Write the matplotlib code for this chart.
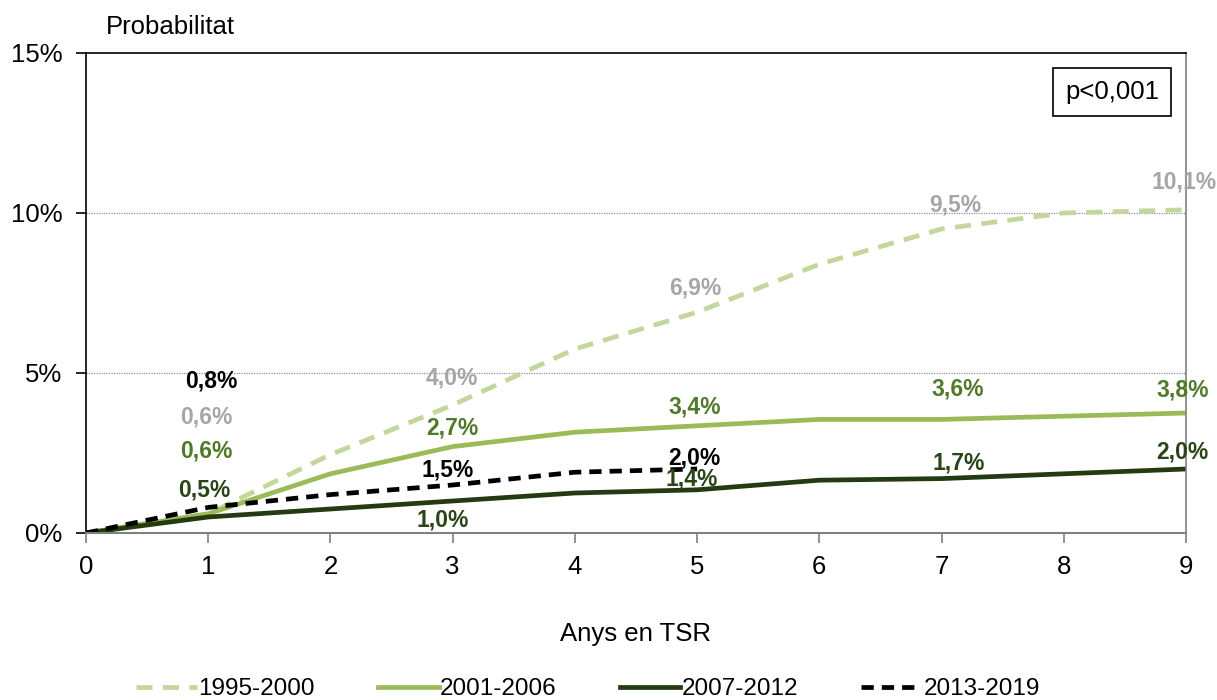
import numpy as np
import matplotlib.pyplot as plt

plt.rcParams['font.family'] = ['Liberation Sans', 'DejaVu Sans']

# data (cumulative probability, %)
anys = [0, 1, 2, 3, 4, 5, 6, 7, 8, 9]
p_1995 = [0, 0.6, 2.45, 4.0, 5.75, 6.9, 8.4, 9.5, 10.0, 10.1]
p_2001 = [0, 0.6, 1.85, 2.7, 3.15, 3.35, 3.55, 3.55, 3.65, 3.75]
p_2007 = [0, 0.5, 0.75, 1.0, 1.25, 1.35, 1.65, 1.7, 1.85, 2.0]
anys_2013 = [0, 1, 2, 3, 4, 5]
p_2013 = [0, 0.8, 1.2, 1.5, 1.9, 2.0]

# labelled points: (x, value, text)
lab_1995 = [(1, 0.6, '0,6%'), (3, 4.0, '4,0%'), (5, 6.9, '6,9%'), (7, 9.5, '9,5%'), (9, 10.1, '10,1%')]
lab_2001 = [(1, 0.6, '0,6%'), (3, 2.7, '2,7%'), (5, 3.35, '3,4%'), (7, 3.55, '3,6%'), (9, 3.75, '3,8%')]
lab_2007 = [(1, 0.5, '0,5%'), (3, 1.0, '1,0%'), (5, 1.35, '1,4%'), (7, 1.7, '1,7%'), (9, 2.0, '2,0%')]
lab_2013 = [(1, 0.8, '0,8%'), (3, 1.5, '1,5%'), (5, 2.0, '2,0%')]

# label offsets in pixels (dx, dy)
off_1995 = [(-2, 97), (-1, 27), (-2, 24), (14, 24), (-2, 28)]
off_2001 = [(-2, 63), (0, 19), (-2, 19), (16, 30), (-3, 23)]
off_2007 = [(-4, 27), (-10, -19), (-5, 11), (17, 16), (-4, 17)]
off_2013 = [(3, 126), (-5, 15), (-3, 11)]

c_1995, t_1995 = '#c3d69b', '#a6a6a6'
c_2001, t_2001 = '#9bbb59', '#4f7a28'
c_2007, t_2007 = '#243a10', '#2a4418'
c_2013, t_2013 = '#000000', '#000000'

fig = plt.figure(figsize=(12.17, 7), dpi=100)
ax = fig.add_axes([86/1217, 167/700, 1100/1217, 480/700])

ax.plot(anys, p_1995, color=c_1995, lw=3.4, linestyle=(0, (3.4, 2.2)), label='1995-2000')
ax.plot(anys, p_2001, color=c_2001, lw=3.4, label='2001-2006')
ax.plot(anys, p_2007, color=c_2007, lw=3.4, label='2007-2012')
ax.plot(anys_2013, p_2013, color=c_2013, lw=3.4, linestyle=(0, (2.6, 1.7)), label='2013-2019')

for labs, offs, col in [(lab_1995, off_1995, t_1995), (lab_2001, off_2001, t_2001),
                        (lab_2007, off_2007, t_2007), (lab_2013, off_2013, t_2013)]:
    for (x, v, s), (dx, dy) in zip(labs, offs):
        ax.annotate(s, (x, v), xytext=(dx, dy), textcoords='offset pixels',
                    ha='center', va='center', fontsize=16.5, fontweight='bold',
                    color=col, annotation_clip=False)

ax.set_xlim(0, 9)
ax.set_ylim(0, 15)
ax.set_xticks(range(10))
ax.set_yticks([0, 5, 10, 15])
ax.set_yticklabels(['0%', '5%', '10%', '15%'])
ax.tick_params(axis='both', labelsize=18.5, direction='out', length=7, width=1.2)
ax.tick_params(axis='x', colors='#808080', labelcolor='black', pad=9)
ax.tick_params(axis='y', pad=10)
for y in [5, 10]:
    ax.axhline(y, color='#909090', lw=0.9, linestyle=(0, (1, 1)), zorder=0)

ax.spines['left'].set_color('black')
ax.spines['left'].set_linewidth(1.2)
ax.spines['top'].set_color('black')
ax.spines['top'].set_linewidth(1.2)
ax.spines['bottom'].set_color('#808080')
ax.spines['bottom'].set_linewidth(1.5)
ax.spines['right'].set_color('#808080')
ax.spines['right'].set_linewidth(1.2)

ax.text(20/1100, 1.03, 'Probabilitat', transform=ax.transAxes, fontsize=18.5,
        ha='left', va='bottom')
ax.set_xlabel('Anys en TSR', fontsize=18.5, labelpad=31)

ax.text(1026/1100, 1 - 39/480, 'p<0,001', transform=ax.transAxes, fontsize=18.5,
        ha='center', va='center',
        bbox=dict(boxstyle='square,pad=0.45', fc='white', ec='black', lw=1.2))

leg = fig.legend(loc='center', bbox_to_anchor=(588/1217, 1 - 689/700), ncol=4,
                 frameon=False, fontsize=17.5, handlelength=2.5, handletextpad=0.05,
                 columnspacing=2.6)

fig.savefig('out.png', dpi=100)
